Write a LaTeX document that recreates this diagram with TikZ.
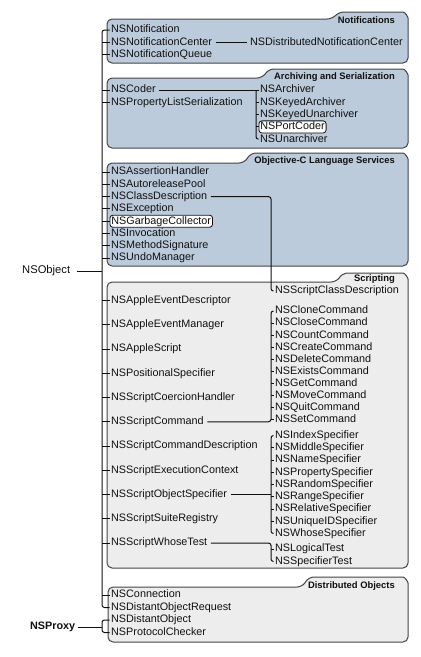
\documentclass[tikz,border=0pt]{standalone}
\usepackage{fontspec}
\setmainfont{Liberation Sans}
\definecolor{boxblue}{HTML}{BCCBDB}
\definecolor{boxgray}{HTML}{EDEDED}
\definecolor{edge}{HTML}{454545}
\definecolor{ink}{HTML}{101010}
\tikzset{
 item/.style={anchor=west, inner xsep=1.5pt, inner ysep=1pt, text height=7.9pt, text depth=2.2pt, font=\fontsize{10.8}{12}\selectfont, text=ink},
 hl/.style={draw=ink, fill=white, rounded corners=3pt, line width=0.8pt},
 conn/.style={draw=ink, line width=1pt},
 link/.style={conn, shorten <=2pt, shorten >=2pt},
 elbow/.style={conn, rounded corners=2.5pt},
 tabtitle/.style={anchor=east, inner sep=0pt, font=\bfseries\fontsize{9.4}{11}\selectfont, text=ink},
 boxline/.style={draw=edge, line width=1pt, rounded corners=5pt},
}
\newcommand{\grpbox}[7]{\path[boxline, fill=#7] (#5,#2) -- (#1,#2) -- (#1,#4) -- (#3,#4) -- (#3,#6+11) .. controls (#3,#6+5) and (#3-3,#6) .. (#3-10,#6) -- (#5+7,#6) -- cycle;}
\begin{document}
\begin{tikzpicture}[x=1pt,y=-1pt]
\useasboundingbox[fill=white] (0,0) rectangle (421,657);
% group boxes
\grpbox{107}{19}{408}{63}{332}{12}{boxblue}
\grpbox{107}{78}{408}{148}{262}{69}{boxblue}
\grpbox{107}{163}{408}{266}{244}{153}{boxblue}
\grpbox{107}{282}{408}{568}{336}{273}{boxgray}
\grpbox{108}{587}{408}{642}{302}{577}{boxgray}
\node[tabtitle] (tn) at (395,20) {Notifications};
\node[tabtitle] (ta) at (395,77) {Archiving and Serialization};
\node[tabtitle] (to) at (395,161) {Objective-C Language Services};
\node[tabtitle] (ts) at (395,279) {Scripting};
\node[tabtitle] (td) at (395,586) {Distributed Objects};
% roots
\node[item, font=\fontsize{11.2}{12}\selectfont] (nsobject) at (20.5,271) {NSObject};
\node[item, font=\bfseries\fontsize{10.8}{12}\selectfont] (nsproxy) at (28.5,627) {NSProxy};
\coordinate (trunk) at (102,0);
\coordinate (abr) at (256,0);
\coordinate (sbr) at (271,0);
% Notifications
\node[item] (n1) at (109.5,30) {NSNotification};
\node[item] (n2) at (109.5,42.3) {NSNotificationCenter};
\node[item] (n3) at (109.5,54.6) {NSNotificationQueue};
\node[item] (n2r) at (248.5,42.3) {NSDistributedNotificationCenter};
% Archiving
\node[item] (a1) at (109.5,90) {NSCoder};
\node[item] (a2) at (109.5,102.3) {NSPropertyListSerialization};
\node[item] (ar1) at (258.5,90) {NSArchiver};
\node[item] (ar2) at (258.5,102.3) {NSKeyedArchiver};
\node[item] (ar3) at (258.5,114.6) {NSKeyedUnarchiver};
\node[item,hl] (ar4) at (258.5,126.9) {NSPortCoder};
\node[item] (ar5) at (258.5,139.2) {NSUnarchiver};
% Objective-C
\node[item] (o1) at (109.5,172) {NSAssertionHandler};
\node[item] (o2) at (109.5,184.3) {NSAutoreleasePool};
\node[item] (o3) at (109.5,196.6) {NSClassDescription};
\node[item] (o4) at (109.5,208.9) {NSException};
\node[item,hl] (o5) at (109.5,221.2) {NSGarbageCollector};
\node[item] (o6) at (109.5,233.5) {NSInvocation};
\node[item] (o7) at (109.5,245.8) {NSMethodSignature};
\node[item] (o8) at (109.5,258.1) {NSUndoManager};
% Scripting left
\node[item] (s1) at (109.5,300.5) {NSAppleEventDescriptor};
\node[item] (s2) at (109.5,324.75) {NSAppleEventManager};
\node[item] (s3) at (109.5,349) {NSAppleScript};
\node[item] (s4) at (109.5,373.25) {NSPositionalSpecifier};
\node[item] (s5) at (109.5,397.5) {NSScriptCoercionHandler};
\node[item] (s6) at (109.5,421.75) {NSScriptCommand};
\node[item] (s7) at (109.5,446) {NSScriptCommandDescription};
\node[item] (s8) at (109.5,470.25) {NSScriptExecutionContext};
\node[item] (s9) at (109.5,494.5) {NSScriptObjectSpecifier};
\node[item] (s10) at (109.5,518.75) {NSScriptSuiteRegistry};
\node[item] (s11) at (109.5,543) {NSScriptWhoseTest};
% Scripting right
\node[item] (scd) at (273.5,291) {NSScriptClassDescription};
\node[item] (c1) at (273.5,311) {NSCloneCommand};
\node[item] (c2) at (273.5,323.1) {NSCloseCommand};
\node[item] (c3) at (273.5,335.2) {NSCountCommand};
\node[item] (c4) at (273.5,347.3) {NSCreateCommand};
\node[item] (c5) at (273.5,359.4) {NSDeleteCommand};
\node[item] (c6) at (273.5,371.5) {NSExistsCommand};
\node[item] (c7) at (273.5,383.6) {NSGetCommand};
\node[item] (c8) at (273.5,395.7) {NSMoveCommand};
\node[item] (c9) at (273.5,407.8) {NSQuitCommand};
\node[item] (c10) at (273.5,419.9) {NSSetCommand};
\node[item] (p1) at (273.5,435.5) {NSIndexSpecifier};
\node[item] (p2) at (273.5,447.75) {NSMiddleSpecifier};
\node[item] (p3) at (273.5,460) {NSNameSpecifier};
\node[item] (p4) at (273.5,472.25) {NSPropertySpecifier};
\node[item] (p5) at (273.5,484.5) {NSRandomSpecifier};
\node[item] (p6) at (273.5,496.75) {NSRangeSpecifier};
\node[item] (p7) at (273.5,509) {NSRelativeSpecifier};
\node[item] (p8) at (273.5,521.25) {NSUniqueIDSpecifier};
\node[item] (p9) at (273.5,533.5) {NSWhoseSpecifier};
\node[item] (t1) at (273.5,549) {NSLogicalTest};
\node[item] (t2) at (273.5,561.5) {NSSpecifierTest};
% Distributed
\node[item] (d1) at (109.5,595) {NSConnection};
\node[item] (d2) at (109.5,607.5) {NSDistantObjectRequest};
\node[item] (d3) at (109.5,620) {NSDistantObject};
\node[item] (d4) at (109.5,632.5) {NSProtocolChecker};
% NSObject trunk
\draw[elbow] (n1.west) -| (trunk |- d2.west) -- (d2.west);
\foreach \k in {n2,n3,a1,a2,o1,o2,o3,o4,o5,o6,o7,o8,s1,s2,s3,s4,s5,s6,s7,s8,s9,s10,s11,d1}
  \draw[conn] (trunk |- \k.west) -- (\k.west);
\draw[conn, shorten <=5pt] (nsobject.east) -- (trunk |- nsobject.east);
% NSProxy
\draw[elbow] (d3.west) -| (trunk |- d4.west) -- (d4.west);
\draw[conn, shorten <=1pt] (nsproxy.east) -- (trunk |- nsproxy.east);
% Notifications
\draw[link] (n2.east) -- (n2r.west);
% Archiving
\draw[conn, shorten <=2pt] (a1.east) -- (ar1.west);
\draw[elbow] (abr |- ar1.west) |- (ar5.west);
\foreach \k in {ar2,ar3,ar4}
  \draw[conn] (abr |- \k.west) -- (\k.west);
% class description
\draw[elbow, shorten <=2pt] (o3.east) -| (sbr |- scd.west) -- (scd.west);
% commands
\draw[elbow] (c1.west) -| (sbr |- s6.east) -- ([xshift=2pt]s6.east);
\foreach \k in {c2,c3,c4,c5,c6,c7,c8,c9,c10}
  \draw[conn] (sbr |- \k.west) -- (\k.west);
% specifiers
\draw[elbow] (p1.west) -| (sbr |- p9.west) -- (p9.west);
\foreach \k in {p2,p3,p4,p5,p6,p7,p8}
  \draw[conn] (sbr |- \k.west) -- (\k.west);
\draw[conn, shorten <=2pt] (s9.east) -- (sbr |- s9.east);
% tests
\draw[elbow, shorten <=2pt] (s11.east) -| (sbr |- t2.west) -- (t2.west);
\draw[conn] (sbr |- t1.west) -- (t1.west);
\end{tikzpicture}
\end{document}
